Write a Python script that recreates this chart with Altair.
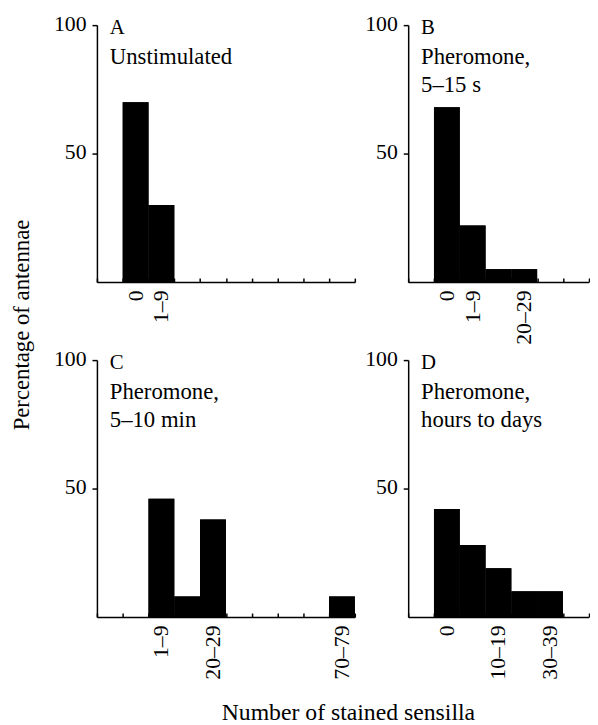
import altair as alt
import pandas as pd

FONT = "Liberation Serif"

# bin categories along the x axis (first bin is the empty one before "0")
cats_full = ["pre", "0", "1–9", "10–19", "20–29", "30–39", "40–49", "50–59", "60–69", "70–79"]
cats_short = cats_full[:7]

# panel A
a_cats = ["0", "1–9"]
a_vals = [70, 30]
a_labels = ["0", "1–9"]
# panel B
b_cats = ["0", "1–9", "10–19", "20–29"]
b_vals = [68, 22, 5, 5]
b_labels = ["0", "1–9", "20–29"]
# panel C
c_cats = ["1–9", "10–19", "20–29", "70–79"]
c_vals = [46, 8, 38, 8]
c_labels = ["1–9", "20–29", "70–79"]
# panel D
d_cats = ["0", "1–9", "10–19", "20–29", "30–39"]
d_vals = [42, 28, 19, 10, 10]
d_labels = ["0", "10–19", "30–39"]

letters = ["A", "B", "C", "D"]
descriptions = ["Unstimulated", "Pheromone,\n5–15 s", "Pheromone,\n5–10 min", "Pheromone,\nhours to days"]
y_ticks = [50, 100]

BIN = 26.1
H = 260


def panel(cats, vals, labels, domain, letter, desc, y_title=None, x_title=None):
    df = pd.DataFrame({"cat": cats, "pct": vals})
    width = BIN * len(domain)
    xscale = alt.Scale(domain=domain, paddingInner=0, paddingOuter=0)
    yaxis_kw = dict(values=y_ticks, tickSize=5, tickWidth=1.5, labelPadding=6,
                    domainWidth=1.5, grid=False, labelFlush=False,
                    labelBaseline="middle", labelOffset=-2)
    if y_title:
        yaxis_kw.update(title=y_title, titleX=-69, titleY=303, titleAngle=270,
                        titleAlign="center", titleBaseline="alphabetic",
                        titleFontSize=23)
    else:
        yaxis_kw.update(title=None)
    y = alt.Y("pct:Q", scale=alt.Scale(domain=[0, 100], nice=False), axis=alt.Axis(**yaxis_kw))

    xaxis_kw = dict(values=labels, ticks=False, tickSize=0, labelAngle=270, labelPadding=8,
                    labelAlign="right", labelBaseline="middle", labelOverlap=False,
                    labelFlush=False, domainWidth=1.5, orient="bottom")
    if x_title:
        xaxis_kw.update(title=x_title, titleX=254, titleY=104, titleAngle=0,
                        titleAlign="center", titleBaseline="alphabetic", titleFontSize=24)
    else:
        xaxis_kw.update(title=None)

    bars = alt.Chart(df).mark_bar(color="black").encode(
        x=alt.X("cat:N", scale=xscale, axis=alt.Axis(**xaxis_kw)),
        y=y,
    )
    ticks = alt.Chart(df).mark_bar(color="black").encode(
        x=alt.X("cat:N", scale=xscale,
                axis=alt.Axis(orient="top", offset=-H, labels=False, domain=False,
                              ticks=True, tickBand="extent", tickSize=4, tickWidth=1.5,
                              title=None)),
        y=y,
    )
    let = alt.Chart(pd.DataFrame({"t": [letter]})).mark_text(
        align="left", baseline="alphabetic", font=FONT, fontSize=21, color="black"
    ).encode(x=alt.value(13), y=alt.value(9), text="t:N")
    des = alt.Chart(pd.DataFrame({"t": [desc]})).mark_text(
        align="left", baseline="alphabetic", font=FONT, fontSize=23, color="black",
        lineBreak="\n", lineHeight=29
    ).encode(x=alt.value(13), y=alt.value(39), text="t:N")
    return alt.layer(bars, ticks, let, des).resolve_axis(x="independent").properties(
        width=width, height=H
    )


pA = panel(a_cats, a_vals, a_labels, cats_full, letters[0], descriptions[0],
           y_title="Percentage of antennae")
pB = panel(b_cats, b_vals, b_labels, cats_short, letters[1], descriptions[1])
pC = panel(c_cats, c_vals, c_labels, cats_full, letters[2], descriptions[2],
           x_title="Number of stained sensilla")
pD = panel(d_cats, d_vals, d_labels, cats_short, letters[3], descriptions[3])

chart = alt.concat(pA, pB, pC, pD, columns=2, spacing={"row": 79, "column": 54},
                   bounds="flush", align="each").properties(
    padding={"left": 3, "top": 0, "right": 0, "bottom": 0}
).configure_view(stroke=None).configure_axis(
    labelFont=FONT, labelFontSize=22, labelColor="black", titleFont=FONT,
    titleFontWeight="normal", titleColor="black", domainColor="black", tickColor="black"
)

chart.save("out.html", embed_options={"renderer": "svg", "actions": False})
